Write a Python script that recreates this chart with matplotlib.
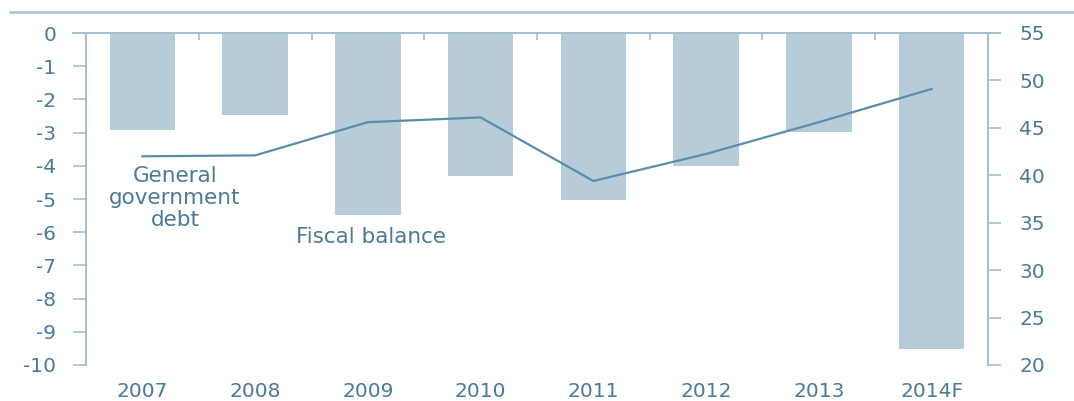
import matplotlib
matplotlib.use("Agg")
import matplotlib.pyplot as plt
from matplotlib.lines import Line2D
import numpy as np

years = ["2007", "2008", "2009", "2010", "2011", "2012", "2013", "2014F"]
fiscal_balance = [-2.92, -2.47, -5.48, -4.30, -5.03, -4.00, -2.98, -9.52]
govt_debt = [42.0, 42.1, 45.6, 46.1, 39.4, 42.25, 45.6, 49.1]

bar_color = "#b7ccd9"
line_color = "#5a8dab"
axis_color = "#a3bfd0"
text_color = "#4a7a98"

plt.rcParams.update({
    "font.family": ["DejaVu Sans"],
    "font.size": 14.5,
    "axes.unicode_minus": False,
})

fig = plt.figure(figsize=(10.74, 4.01), dpi=100)
ax = fig.add_axes([86 / 1074, 1 - 365 / 401, (988 - 86) / 1074, (365 - 33) / 401])
ax2 = ax.twinx()

x = np.arange(len(years))
ax.bar(x, fiscal_balance, width=0.58, color=bar_color, zorder=2)
ax2.plot(x, govt_debt, color=line_color, linewidth=1.6, zorder=3)

ax.set_xlim(-0.5, len(years) - 0.5)
ax.set_ylim(-10, 0)
ax2.set_ylim(20, 55)
ax.set_yticks(range(-10, 1))
ax2.set_yticks(range(20, 56, 5))

# x labels at the bottom, little marks between bars along the top
ax.set_xticks(x)
ax.set_xticklabels(years)
ax.tick_params(axis="x", length=0, pad=12, labelsize=14.5, labelcolor=text_color)
ax.set_xticks(np.arange(0.5, len(years) - 1, 1), minor=True)
ax.tick_params(axis="x", which="minor", direction="in", top=True, bottom=False,
               length=5, width=1.2, color=axis_color)

ax.tick_params(axis="y", direction="out", length=9.5, width=1.2, color=axis_color,
               labelsize=14.5, labelcolor=text_color, pad=12)
ax2.tick_params(axis="y", direction="out", length=9.5, width=1.2, color=axis_color,
                labelsize=14.5, labelcolor=text_color, pad=13)

for a in (ax, ax2):
    a.spines["bottom"].set_visible(False)
    for s in ("left", "right", "top"):
        a.spines[s].set_color(axis_color)
        a.spines[s].set_linewidth(1.4)
ax2.spines["top"].set_visible(False)
ax2.spines["left"].set_visible(False)
ax.spines["right"].set_visible(False)

# zero line extending past the spines like the original
fig.add_artist(Line2D([73 / 1074, 1000 / 1074], [1 - 33 / 401] * 2,
                      color=axis_color, linewidth=1.4))
# decorative rule above the chart
fig.add_artist(Line2D([10 / 1074, 1.0], [1 - 12 / 401] * 2,
                      color="#a6c0cf", linewidth=1.8))

ax.text(0.29, -4.97, "General\ngovernment\ndebt", ha="center", va="center",
        fontsize=15.5, color=text_color, linespacing=1.15, zorder=4)
ax.text(2.03, -6.14, "Fiscal balance", ha="center", va="center",
        fontsize=15.5, color=text_color, zorder=4)

fig.savefig("out.png", dpi=100, facecolor="white")
